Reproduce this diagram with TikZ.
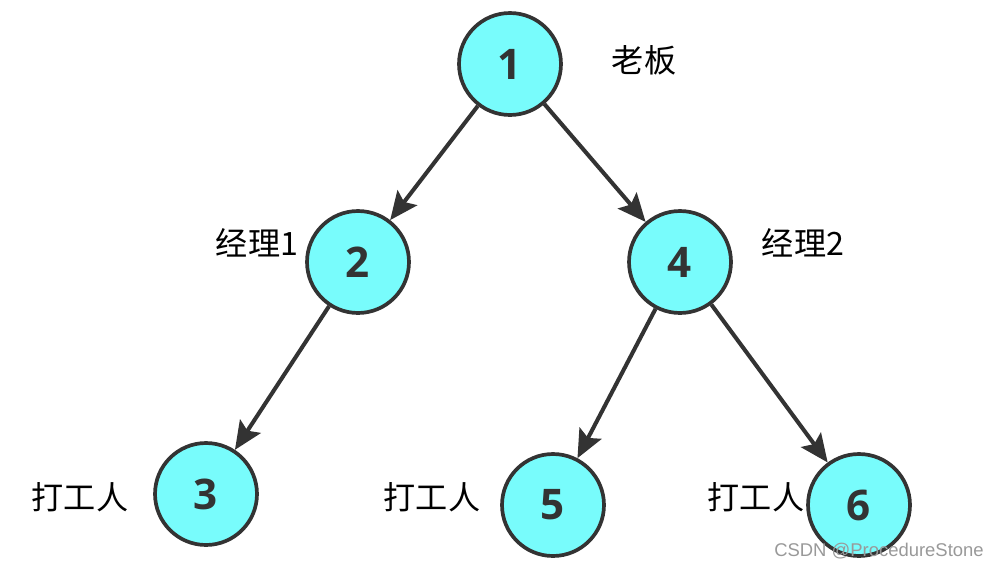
\documentclass[tikz,border=0pt]{standalone}
\usepackage{fontspec}
\setmainfont{Liberation Sans}
\newfontfamily\cjk{Noto Sans CJK SC}
\newfontfamily\numfont{Open Sans}
\usepackage{tikz}
\usetikzlibrary{arrows.meta}
\definecolor{nodecyan}{HTML}{78FCFC}
\definecolor{edgegray}{HTML}{333333}

\begin{document}
\begin{tikzpicture}[x=0.02cm, y=-0.02cm,
  vertex/.style = {circle, draw=edgegray, line width=2.1pt, fill=nodecyan,
    minimum size=2.04cm, inner sep=0pt, text=edgegray,
    font=\numfont\bfseries\fontsize{24}{24}\selectfont},
  role/.style = {font=\cjk\fontsize{18.3}{18.3}\selectfont, text=black},
  link/.style = {edgegray, line width=2.3pt,
    -{Stealth[length=16pt, width=14pt, inset=3pt]}}]
\useasboundingbox (0,0) rectangle (999,568);
\node[vertex] (n1) at (510,64) {1};
\node[vertex] (n2) at (358,262) {2};
\node[vertex] (n4) at (680,262) {4};
\node[vertex] (n3) at (206,494) {3};
\node[vertex] (n5) at (553,505) {5};
\node[vertex] (n6) at (859,505) {6};

\node[role] (boss) at (644,60) {老板};
\node[role] (mgr1) at (257,243) {经理1};
\node[role] (mgr2) at (803,243) {经理2};
\node[role] (w3) at (80,497) {打工人};
\node[role] (w5) at (432,497) {打工人};
\node[role] (w6) at (756,497) {打工人};

\draw[link] (n1)--(n2);
\draw[link] (n1)--(n4);
\draw[link] (n2)--(n3);
\draw[link] (n4)--(n5);
\draw[link] (n4)--(n6);

\node[text=gray!80, font=\fontsize{10.5}{10.5}\selectfont] (mark) at (879,551) {CSDN @ProcedureStone};
\end{tikzpicture}
\end{document}
